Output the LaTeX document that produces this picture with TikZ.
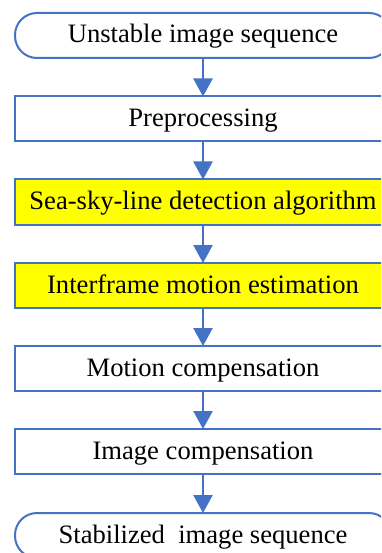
\documentclass[tikz,border=0pt]{standalone}
\usepackage{fontspec}
\setmainfont{Liberation Serif}
\usetikzlibrary{arrows.meta}
\definecolor{flowblue}{HTML}{4472C4}
\definecolor{flowyellow}{HTML}{FFFF00}
\begin{document}
\begin{tikzpicture}[x=1pt,y=-1pt,
  stepbox/.style={draw=flowblue, line width=2pt, minimum width=376pt, minimum height=45pt,
    inner sep=0pt, text height=18pt, text depth=3pt, font=\fontsize{26.6}{30}\selectfont, fill=white},
  termbox/.style={stepbox, rounded corners=22pt},
  hlbox/.style={stepbox, fill=flowyellow},
  flowarr/.style={draw=flowblue, line width=2.5pt, -{Triangle[width=19pt,length=18pt]}, shorten >=-1pt}]
\useasboundingbox (0,0) rectangle (381,553);
\clip (0,0) rectangle (381,553);
\node[termbox] (n1) at (203,35.5) {Unstable image sequence};
\node[stepbox] (n2) at (203,119) {Preprocessing};
\node[hlbox] (n3) at (203,202) {Sea-sky-line detection algorithm};
\node[hlbox] (n4) at (203,285.5) {Interframe motion estimation};
\node[stepbox] (n5) at (203,368.5) {Motion compensation};
\node[stepbox] (n6) at (203,451.5) {Image compensation};
\node[termbox] (n7) at (203,535.5) {Stabilized\ \ image sequence};
\draw[flowarr] (n1.south) -- (n2.north);
\draw[flowarr] (n2.south) -- (n3.north);
\draw[flowarr] (n3.south) -- (n4.north);
\draw[flowarr] (n4.south) -- (n5.north);
\draw[flowarr] (n5.south) -- (n6.north);
\draw[flowarr] (n6.south) -- (n7.north);
\end{tikzpicture}
\end{document}
